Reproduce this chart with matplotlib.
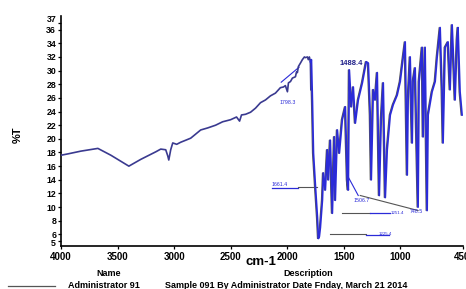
import numpy as np
import matplotlib
matplotlib.use("Agg")
import matplotlib.pyplot as plt
import matplotlib.transforms as mtrans

# wavenumber (cm-1) and %T
wavenumber = [4000, 3938, 3824, 3674, 3559, 3400, 3294, 3162, 3118, 3074, 3056, 3047,
              3030, 3012, 2977, 2942, 2897, 2853, 2809, 2765, 2703, 2633, 2571, 2501,
              2448, 2421, 2404, 2368, 2324, 2280, 2236, 2192, 2148, 2104, 2060, 2033,
              2016, 1998, 1989, 1971, 1954, 1927, 1918, 1910, 1901, 1883, 1866, 1848,
              1839, 1821, 1813, 1804, 1795, 1791, 1786, 1777, 1768, 1750, 1733, 1724,
              1716, 1707, 1689, 1680, 1663, 1645, 1636, 1619, 1601, 1583, 1575, 1557,
              1539, 1513, 1486, 1469, 1460, 1451, 1433, 1416, 1398, 1372, 1336, 1319,
              1301, 1283, 1266, 1257, 1239, 1222, 1204, 1195, 1186, 1169, 1151, 1133,
              1116, 1089, 1063, 1028, 1001, 975, 957, 939, 931, 913, 895, 887,
              869, 843, 834, 807, 798, 781, 763, 754, 719, 692, 675, 648,
              631, 622, 604, 578, 560, 542, 525, 516, 498, 490, 472, 454]
transmittance = [17.6, 17.8, 18.2, 18.6, 17.6, 16.0, 17.0, 18.1, 18.5, 18.4, 17.5, 16.9,
                 18.4, 19.4, 19.2, 19.5, 19.8, 20.1, 20.7, 21.3, 21.6, 22.0, 22.5, 22.8,
                 23.2, 22.6, 23.5, 23.6, 23.9, 24.5, 25.3, 25.7, 26.3, 26.7, 27.5, 27.6,
                 27.8, 26.9, 28.2, 28.4, 28.9, 29.1, 29.8, 29.7, 30.6, 31.1, 31.6, 32.0,
                 31.9, 32.0, 31.6, 32.0, 31.3, 27.2, 31.6, 25.4, 17.9, 12.9, 8.5, 5.4,
                 5.7, 7.0, 11.0, 15.0, 12.5, 18.4, 14.0, 19.8, 9.1, 20.3, 11.0, 21.3,
                 17.9, 22.8, 24.7, 14.0, 12.5, 30.1, 24.7, 27.6, 22.3, 25.7, 28.2, 29.7,
                 31.3, 31.1, 23.5, 14.0, 27.2, 25.7, 29.7, 20.6, 11.7, 22.8, 28.2, 11.4,
                 18.4, 23.5, 25.0, 26.4, 28.4, 31.9, 34.2, 14.7, 25.7, 32.0, 19.4, 28.4,
                 30.4, 10.0, 28.4, 33.4, 20.3, 33.4, 9.5, 23.5, 26.9, 28.4, 31.9, 36.3,
                 27.2, 19.4, 33.4, 34.2, 27.2, 36.7, 29.8, 25.7, 34.5, 36.3, 26.9, 23.5]

x_ticks = [4000, 3500, 3000, 2500, 2000, 1500, 1000, 450]
x_ticklabels = ["4000", "3500", "3000", "2500", "2000", "1500", "1000", "450"]
y_ticks = [5, 6, 8, 10, 12, 14, 16, 18, 20, 22, 24, 26, 28, 30, 32, 34, 36, 37]

BLUE = "#2b2bd8"
NAVY = "#3a3a90"
GREY = "#555555"
W, H = 466, 289

plt.rcParams["font.family"] = ["Liberation Sans", "DejaVu Sans"]

fig = plt.figure(figsize=(W / 100, H / 100), dpi=100)
ax = fig.add_axes([61 / W, 1 - 246 / H, (462.5 - 61) / W, (246 - 16) / H])

wn = np.array(wavenumber)
tr = np.array(transmittance)
left = wn >= 1790
right = ~left | (wn == 1795)
# grey doubled trace under the fingerprint region, as in the scan
m = wn < 1790
ax.plot(wn[m] + 8, tr[m], color=GREY, lw=0.9, zorder=2)
ax.plot(wn[left], tr[left], color=NAVY, lw=1.2, zorder=3)
ax.plot(wn[right], tr[right], color=BLUE, lw=1.3, zorder=3)

ax.set_xlim(4000, 450)
ax.set_ylim(4.3, 38.0)
ax.set_xticks(x_ticks)
ax.set_xticklabels(x_ticklabels)
ax.set_yticks(y_ticks)
ax.tick_params(axis="both", length=2.5, width=0.9, pad=1.5)
ax.tick_params(axis="x", labelsize=7)
ax.tick_params(axis="y", labelsize=6.3, pad=1)
for lab in ax.get_xticklabels() + ax.get_yticklabels():
    lab.set_fontweight("bold")
ylabs = ax.get_yticklabels()
ylabs[-1].set_transform(ylabs[-1].get_transform() +
                        mtrans.ScaledTranslation(0, 4 / 100, fig.dpi_scale_trans))
ylabs[0].set_transform(ylabs[0].get_transform() +
                       mtrans.ScaledTranslation(0, -1.5 / 100, fig.dpi_scale_trans))
for s in ["top", "right"]:
    ax.spines[s].set_visible(False)
for s in ["left", "bottom"]:
    ax.spines[s].set_linewidth(1.2)

# peak labels
ax.text(1433, 31.1, "1488.4", fontsize=5.5, fontweight="bold", color="#22228a",
        ha="center", va="center")
ax.plot([2053, 1895], [28.3, 30.5], color=BLUE, lw=0.8)
ax.text(1991, 25.3, "1798.3", fontsize=3.8, color=BLUE, ha="center", va="center")
ax.plot([2130, 1901], [12.8, 12.8], color=BLUE, lw=0.9)
ax.plot([1901, 1733], [12.9, 12.9], color=GREY, lw=0.8)
ax.text(2068, 13.3, "1661.4", fontsize=3.8, color=BLUE, ha="center", va="center")
ax.plot([1460, 1372], [14.4, 11.7], color=BLUE, lw=0.8)
ax.plot([1354, 843], [11.7, 9.5], color=GREY, lw=0.8)
ax.text(1345, 10.9, "1506.7", fontsize=3.8, color=BLUE, ha="center", va="center")
ax.text(860, 9.4, "748.5", fontsize=3.8, color=BLUE, ha="center", va="center")
ax.plot([1513, 1266], [9.2, 9.2], color=GREY, lw=0.8)
ax.plot([1266, 1089], [9.1, 9.1], color=BLUE, lw=0.9)
ax.text(1030, 9.1, "1251.4", fontsize=3.2, color=BLUE, ha="center", va="center")
ax.plot([1619, 1300], [6.0, 6.0], color=GREY, lw=0.8)
ax.plot([1300, 1100], [5.9, 5.9], color=BLUE, lw=0.9)
ax.text(1130, 6.1, "1225.4", fontsize=3.2, color=BLUE, ha="center", va="center")

# axis labels
fig.text(18 / W, 1 - 135 / H, "%T", rotation=90, fontsize=8, fontweight="bold",
         ha="center", va="center")
fig.text(261 / W, 1 - 262 / H, "cm-1", fontsize=9.5, fontweight="bold",
         ha="center", va="center")

# footer
fig.text(109 / W, 1 - 273 / H, "Name", fontsize=6.5, fontweight="bold",
         ha="center", va="center")
fig.text(308 / W, 1 - 273 / H, "Description", fontsize=6.5, fontweight="bold",
         ha="center", va="center")
fig.add_artist(plt.Line2D([8 / W, 55 / W], [1 - 286 / H, 1 - 286 / H],
                          color=GREY, lw=0.9))
fig.text(68 / W, 1 - 285 / H, "Administrator 91", fontsize=6.5, fontweight="bold",
         ha="left", va="center")
fig.text(165 / W, 1 - 285 / H, "Sample 091 By Administrator Date Fnday, March 21 2014",
         fontsize=6.5, fontweight="bold", ha="left", va="center")

fig.savefig("out.png", dpi=100)
